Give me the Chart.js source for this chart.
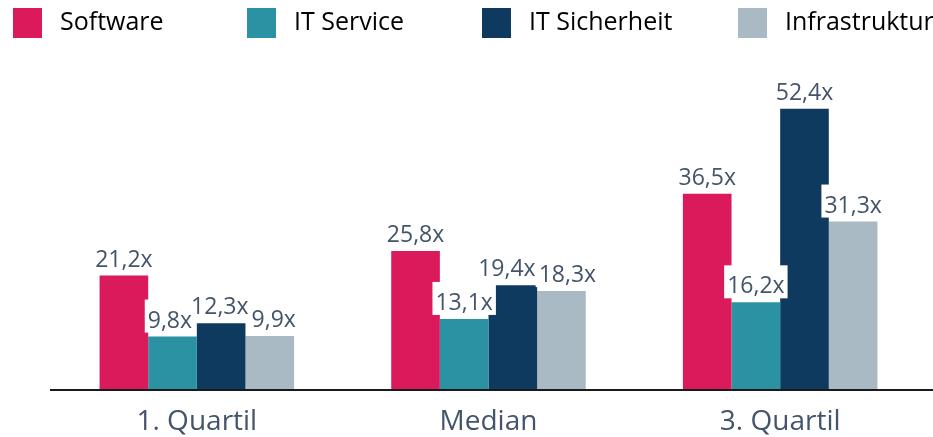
<!DOCTYPE html>
<html><head><meta charset="utf-8">
<script src="https://cdn.jsdelivr.net/npm/chart.js@4/dist/chart.umd.min.js"></script>
<style>html,body{margin:0;padding:0;background:#fff}#wrap{width:933px;height:437px}</style>
</head><body><div id="wrap"><canvas id="c" width="933" height="437"></canvas></div>
<script>
const categories = ['1. Quartil', 'Median', '3. Quartil'];
const seriesNames = ['Software', 'IT Service', 'IT Sicherheit', 'Infrastruktur'];
const software = [21.2, 25.8, 36.5];
const itService = [9.8, 13.1, 16.2];
const itSicherheit = [12.3, 19.4, 52.4];
const infrastruktur = [9.9, 18.3, 31.3];
const colors = ['#DA1A5B', '#2A92A3', '#0F3A5F', '#AABAC4'];
const FONT = '"Open Sans", sans-serif';
const TEXT = '#44546A';

const fmt = v => v.toFixed(1).replace('.', ',') + 'x';

const labelPlugin = {
  id: 'valLabels',
  afterDatasetsDraw(chart) {
    const ctx = chart.ctx;
    ctx.save();
    ctx.font = '23px ' + FONT;
    ctx.textAlign = 'center';
    ctx.textBaseline = 'alphabetic';
    const nCat = chart.data.labels.length;
    const all = [];
    for (let j = 0; j < nCat; j++) {
      const group = [];
      chart.data.datasets.forEach((ds, i) => {
        const bar = chart.getDatasetMeta(i).data[j];
        const t = fmt(ds.data[j]);
        group.push({ t, x: bar.x, base: bar.y - 9, w: ctx.measureText(t).width });
      });
      for (let k = 0; k < group.length - 1; k++) {
        const a = group[k], b = group[k + 1];
        const vert = Math.abs(a.base - b.base) < 24;
        const need = a.w / 2 + b.w / 2 + 3;
        const have = b.x - a.x;
        if (vert && have < need) {
          const d = (need - have) / 2;
          a.x -= d; b.x += d;
        }
      }
      all.push(...group);
    }
    ctx.fillStyle = '#fff';
    all.forEach(it => ctx.fillRect(it.x - it.w / 2 - 3, it.base - 28, it.w + 6, 33));
    ctx.fillStyle = TEXT;
    all.forEach(it => ctx.fillText(it.t, it.x, it.base));
    ctx.restore();
  }
};

const legendPlugin = {
  id: 'fixedLegend',
  afterDraw(chart) {
    const ctx = chart.ctx;
    const xs = [13, 247, 482, 738];
    ctx.save();
    ctx.font = '25px ' + FONT;
    ctx.textBaseline = 'middle';
    chart.data.datasets.forEach((ds, i) => {
      ctx.fillStyle = ds.backgroundColor;
      ctx.fillRect(xs[i], 8, 29, 30);
      ctx.fillStyle = '#000';
      ctx.fillText(ds.label, xs[i] + 47, 23);
    });
    ctx.restore();
  }
};

const axisLine = {
  id: 'axisLine',
  afterDatasetsDraw(chart) {
    const ctx = chart.ctx, a = chart.chartArea;
    ctx.save();
    ctx.strokeStyle = '#1a1a1a';
    ctx.lineWidth = 2;
    ctx.beginPath();
    ctx.moveTo(50, a.bottom + 1);
    ctx.lineTo(933, a.bottom + 1);
    ctx.stroke();
    ctx.restore();
  }
};

new Chart(document.getElementById('c'), {
  type: 'bar',
  data: {
    labels: categories,
    datasets: [software, itService, itSicherheit, infrastruktur].map((d, i) => ({
      label: seriesNames[i], data: d, backgroundColor: colors[i],
      categoryPercentage: 0.667, barPercentage: 1.0
    }))
  },
  options: {
    responsive: false,
    animation: false,
    layout: { padding: { left: 51, right: 7, top: 68, bottom: -18 } },
    plugins: { legend: { display: false }, tooltip: { enabled: false } },
    scales: {
      x: {
        grid: { display: false, drawTicks: false },
        border: { display: false },
        ticks: { color: TEXT, font: { family: FONT, size: 28, lineHeight: 1 }, padding: 19 }
      },
      y: { display: false, min: 0, max: 60 }
    }
  },
  plugins: [labelPlugin, legendPlugin, axisLine]
});
</script></body></html>
